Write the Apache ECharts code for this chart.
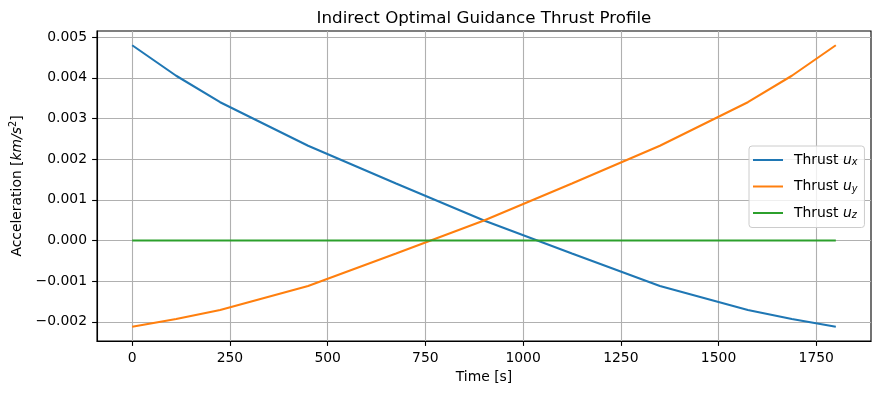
<!DOCTYPE html>
<html>
<head>
<meta charset="utf-8">
<script src="https://cdn.jsdelivr.net/npm/echarts@6/dist/echarts.min.js"></script>
<style>
html,body{margin:0;padding:0;background:#fff;}
#chart{width:881px;height:393px;}
</style>
</head>
<body>
<div id="chart"></div>
<script>
const timeValues = [0, 112.5, 225, 450, 675, 900, 1125, 1350, 1575, 1687.5, 1800];
const thrustUx = [0.0048, 0.00405, 0.00340, 0.00233, 0.00140, 0.00049, -0.00032, -0.00112, -0.00171, -0.00193, -0.00212];
const thrustUy = [-0.00212, -0.00193, -0.00171, -0.00112, -0.00032, 0.00049, 0.00140, 0.00233, 0.00340, 0.00405, 0.0048];
const thrustUz = [0, 0, 0, 0, 0, 0, 0, 0, 0, 0, 0];
const xTicks = [0, 250, 500, 750, 1000, 1250, 1500, 1750];
const yTicks = [-0.002, -0.001, 0, 0.001, 0.002, 0.003, 0.004, 0.005];
const seriesNames = ['Thrust u_x', 'Thrust u_y', 'Thrust u_z'];
const subs = ['x', 'y', 'z'];

const FONT = 'DejaVu Sans';
const FS = 13.9;
const pair = (arr) => timeValues.map((t, i) => [t, arr[i]]);
const fmtY = (v) => (v < 0 ? '\u2212' : '') + Math.abs(v).toFixed(3);

const chart = echarts.init(document.getElementById('chart'), null, {renderer: 'canvas'});
const colors = ['#1f77b4', '#ff7f0e', '#2ca02c'];
const dataArr = [thrustUx, thrustUy, thrustUz];

chart.setOption({
  animation: false,
  backgroundColor: '#ffffff',
  title: {
    text: 'Indirect Optimal Guidance Thrust Profile',
    left: 484, top: 10, textAlign: 'center', padding: 0,
    textStyle: {fontFamily: FONT, fontSize: 16.7, fontWeight: 'normal', color: '#000'}
  },
  grid: {left: 97, right: 10, top: 31, bottom: 52, show: true, borderColor: '#000', borderWidth: 1.1, backgroundColor: 'transparent'},
  legend: {
    orient: 'vertical',
    left: 749, top: 146,
    backgroundColor: 'rgba(255,255,255,0.8)',
    borderColor: '#cccccc', borderWidth: 1, borderRadius: 3,
    padding: [7, 7, 7, 4],
    itemWidth: 30, itemHeight: 2, itemGap: 12,
    icon: 'rect',
    data: seriesNames,
    formatter: (name) => {
      const i = seriesNames.indexOf(name);
      return 'Thrust {i|u}{s|' + subs[i] + '}';
    },
    textStyle: {
      fontFamily: FONT, fontSize: FS, color: '#000', padding: [0, 0, 0, 6],
      rich: {
        i: {fontFamily: FONT, fontStyle: 'italic', fontSize: FS, color: '#000'},
        s: {fontFamily: FONT, fontStyle: 'italic', fontSize: 9.7, color: '#000', padding: [5, 0, 0, 0]}
      }
    }
  },
  xAxis: {
    type: 'value', min: -90, max: 1890,
    name: 'Time [s]', nameLocation: 'middle', nameGap: 28,
    nameTextStyle: {fontFamily: FONT, fontSize: FS, color: '#000'},
    axisLine: {show: true, onZero: false, lineStyle: {color: '#000', width: 1.1}},
    axisTick: {show: true, length: 4.9, customValues: xTicks, lineStyle: {color: '#000', width: 1.1}},
    axisLabel: {customValues: xTicks, margin: 10, fontFamily: FONT, fontSize: FS, color: '#000', formatter: (v) => String(v)},
    splitLine: {show: true, lineStyle: {color: '#b0b0b0', width: 1.1}}
  },
  yAxis: {
    type: 'value', min: -0.00247, max: 0.00515,
    name: 'Acceleration [{i|km/s}{sup|2}]', nameLocation: 'middle', nameGap: 62, nameRotate: 90,
    nameTextStyle: {
      fontFamily: FONT, fontSize: FS, color: '#000',
      rich: {
        i: {fontFamily: FONT, fontStyle: 'italic', fontSize: FS, color: '#000'},
        sup: {fontFamily: FONT, fontSize: 9.7, color: '#000', padding: [0, 0, 8, 0]}
      }
    },
    axisLine: {show: true, onZero: false, lineStyle: {color: '#000', width: 1.1}},
    axisTick: {show: true, length: 4.9, customValues: yTicks, lineStyle: {color: '#000', width: 1.1}},
    axisLabel: {customValues: yTicks, margin: 10, fontFamily: FONT, fontSize: FS, color: '#000', formatter: fmtY},
    splitLine: {show: true, lineStyle: {color: '#b0b0b0', width: 1.1}}
  },
  series: seriesNames.map((n, i) => ({
    name: n, type: 'line', data: pair(dataArr[i]),
    symbol: 'none', color: colors[i],
    lineStyle: {width: 2.08, color: colors[i]},
    z: 3 + i
  }))
});
</script>
</body>
</html>
